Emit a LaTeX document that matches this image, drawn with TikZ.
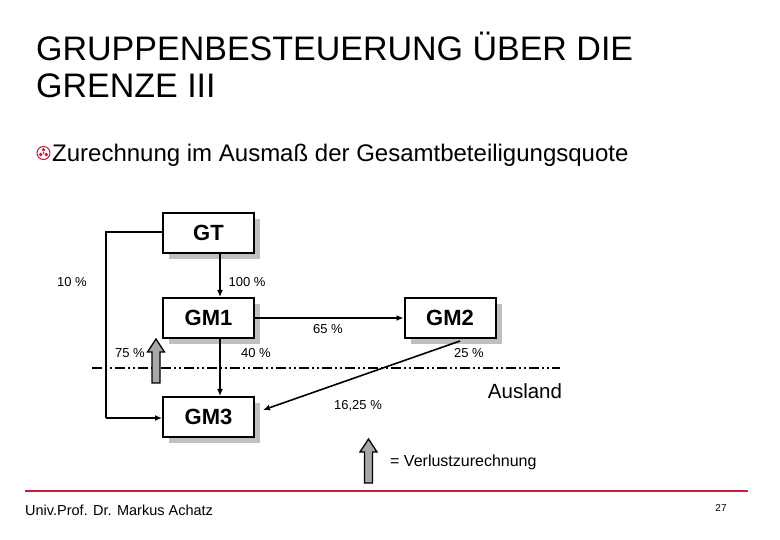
\documentclass[tikz,border=0pt]{standalone}
\usepackage{fontspec}
\setmainfont{Liberation Sans}
\usetikzlibrary{arrows.meta,shadows}
\definecolor{shadowgray}{RGB}{192,192,192}
\definecolor{arrowgray}{RGB}{168,168,168}
\definecolor{footred}{RGB}{196,30,58}
\begin{document}
\begin{tikzpicture}[x=1pt,y=-1pt,
  box/.style={draw,line width=2pt,fill=white,minimum width=91pt,minimum height=40pt,inner sep=0pt,
    font=\fontsize{22}{22}\selectfont\bfseries,
    drop shadow={shadow xshift=6pt,shadow yshift=-6pt,fill=shadowgray,opacity=1}},
  conn/.style={line width=1.6pt,-{Latex[length=7pt,width=6pt]}},
  plain/.style={line width=1.6pt},
  lbl/.style={font=\fontsize{13}{13}\selectfont,inner sep=0pt},
  verlust/.pic={
    \draw[line width=1.3pt,fill=arrowgray,line join=miter]
      (0,0) -- (8.5,13) -- (4,13) -- (4,44) -- (-4,44) -- (-4,13) -- (-8.5,13) -- cycle;
  }
]
\useasboundingbox (0,0) rectangle (780,540);

% title
\node[anchor=base west,inner sep=0pt,font=\fontsize{34}{34}\selectfont] (title1) at (36,61) {GRUPPENBESTEUERUNG ÜBER DIE};
\node[anchor=base west,inner sep=0pt,font=\fontsize{34}{34}\selectfont] (title2) at (36,98) {GRENZE III};

% bullet
\begin{scope}[shift={(43.5,153)}]
  \draw[footred,line width=1pt] (0,0) circle (6.5);
  \foreach \a in {270,30,150} \fill[footred] (\a:3.2) circle (1.9);
  \fill[footred] (0,0) circle (1);
\end{scope}
\node[anchor=base west,inner sep=0pt,font=\fontsize{24}{24}\selectfont] (sub) at (52,162) {Zurechnung im Ausmaß der Gesamtbeteiligungsquote};

% boxes
\node[box] (GT) at (208.5,233) {GT};
\node[box] (GM1) at (208.5,318) {GM1};
\node[box] (GM2) at (450,318) {GM2};
\node[box] (GM3) at (208.5,417) {GM3};

% connectors
\coordinate (gtl) at (106,232);
\coordinate (gml) at (106,418);
\draw[plain] (GT.west |- gtl) -- (gtl) -- (gml);
\draw[conn] (gml) -- (GM3.west |- gml);
\draw[conn] (220,253) coordinate (a1) -- (a1 |- GM1.north);
\draw[conn] (220,338) coordinate (a2) -- (a2 |- GM3.north);
\draw[conn] (GM1.east) -- (GM2.west);
\coordinate (gm2s) at (460,341);
\coordinate (gm3e) at (263,410);
\draw[conn] (gm2s) -- (gm3e);

% border line
\coordinate (bl) at (92,368.5);
\coordinate (br) at (560,368.5);
\draw[line width=2pt,dash pattern=on 10pt off 3pt on 2pt off 3pt on 2pt off 3pt] (bl) -- (br);

% labels
\node[lbl] (l10) at (72,282) {10 \%};
\node[lbl] (l100) at (247,282) {100 \%};
\node[lbl] (l65) at (328,329) {65 \%};
\node[lbl] (l75) at (130,353) {75 \%};
\node[lbl] (l40) at (256,353) {40 \%};
\node[lbl] (l25) at (469,353) {25 \%};
\node[lbl] (l1625) at (358,406) {16,25 \%};
\node[inner sep=0pt,font=\fontsize{20.5}{20.5}\selectfont] (aus) at (525,391) {Ausland};

% loss arrows
\pic at (156,339) {verlust};
\pic at (368.5,439) {verlust};
\node[anchor=west,inner sep=0pt,font=\fontsize{16}{16}\selectfont] (leg) at (390,462) {= Verlustzurechnung};

% footer
\draw[footred,line width=2.5pt] (25,491) coordinate (fl) -- (748,491) coordinate (fr);
\node[anchor=west,inner sep=0pt,font=\fontsize{14.5}{14.5}\selectfont] (auth) at (25,510) {Univ.Prof. Dr. Markus Achatz};
\node[inner sep=0pt,font=\fontsize{10}{10}\selectfont] (pg) at (721,508) {27};
\end{tikzpicture}
\end{document}
